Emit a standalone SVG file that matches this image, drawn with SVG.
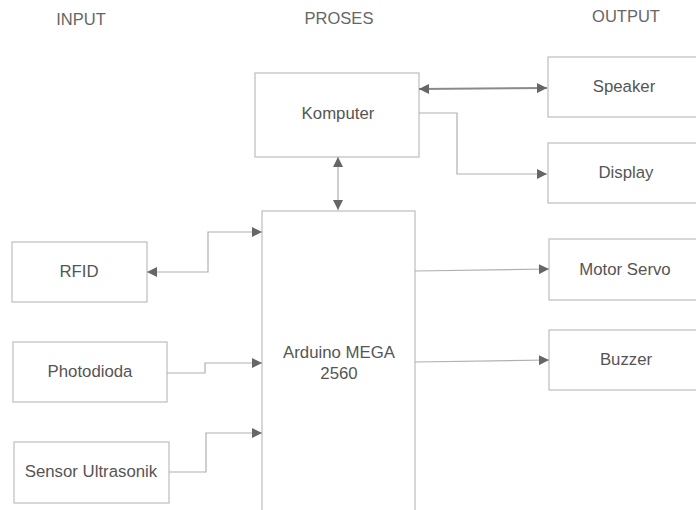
<svg xmlns="http://www.w3.org/2000/svg" width="696" height="510" viewBox="0 0 696 510">
<defs>
<style>
.box{fill:#fff;stroke:#bdbdbd;stroke-width:1.2}
.lbl{font-family:"Liberation Sans",Arial,sans-serif;font-size:16.8px;fill:#555;text-anchor:middle}
.hdr{font-family:"Liberation Sans",Arial,sans-serif;font-size:16.5px;fill:#666;text-anchor:middle}
.ln{fill:none;stroke:#b0b0b0;stroke-width:1.2}
.dk{fill:none;stroke:#8a8a8a;stroke-width:2}
</style>
<marker id="ah" viewBox="0 0 10 10" refX="10" refY="5" markerWidth="11" markerHeight="10" markerUnits="userSpaceOnUse" orient="auto-start-reverse">
<path d="M0,0 L10,5 L0,10 Z" fill="#666"/>
</marker>
</defs>
<rect width="696" height="510" fill="#fff"/>
<text class="hdr" x="81" y="25">INPUT</text>
<text class="hdr" x="339" y="24">PROSES</text>
<text class="hdr" x="626" y="22">OUTPUT</text>

<g id="komputer"><rect class="box" x="255" y="73" width="164" height="84"/><text class="lbl" x="338" y="119">Komputer</text></g>
<g id="speaker"><rect class="box" x="548" y="57" width="150" height="60"/><text class="lbl" x="624" y="92">Speaker</text></g>
<g id="display"><rect class="box" x="548" y="143" width="150" height="60"/><text class="lbl" x="626" y="178">Display</text></g>
<g id="arduino"><rect class="box" x="262" y="211" width="153" height="302"/><text class="lbl" x="339" y="358">Arduino MEGA</text><text class="lbl" x="339" y="379">2560</text></g>
<g id="rfid"><rect class="box" x="12" y="242" width="135" height="60"/><text class="lbl" x="79" y="277">RFID</text></g>
<g id="photodioda"><rect class="box" x="13" y="342" width="154" height="60"/><text class="lbl" x="90" y="377">Photodioda</text></g>
<g id="ultrasonik"><rect class="box" x="14" y="442" width="155" height="61"/><text class="lbl" x="91" y="477">Sensor Ultrasonik</text></g>
<g id="servo"><rect class="box" x="549" y="239" width="150" height="61"/><text class="lbl" x="625" y="275">Motor Servo</text></g>
<g id="buzzer"><rect class="box" x="549" y="330" width="150" height="60"/><text class="lbl" x="626" y="365">Buzzer</text></g>

<g id="connectors">
<path class="dk" d="M419,89 L547,88" marker-start="url(#ah)" marker-end="url(#ah)"/>
<path class="ln" d="M419,113 L457,113 L457,174 L547,174" marker-end="url(#ah)"/>
<path class="ln" d="M338,157 L338,210" marker-start="url(#ah)" marker-end="url(#ah)"/>
<path class="ln" d="M262,232 L208,232 L208,272 L147,272" marker-start="url(#ah)" marker-end="url(#ah)"/>
<path class="ln" d="M167,373 L205,373 L205,363 L262,363" marker-end="url(#ah)"/>
<path class="ln" d="M169,472 L206,472 L206,433 L262,433" marker-end="url(#ah)"/>
<path class="ln" d="M415,271 L549,269" marker-end="url(#ah)"/>
<path class="ln" d="M415,362 L549,360" marker-end="url(#ah)"/>
</g>
</svg>
